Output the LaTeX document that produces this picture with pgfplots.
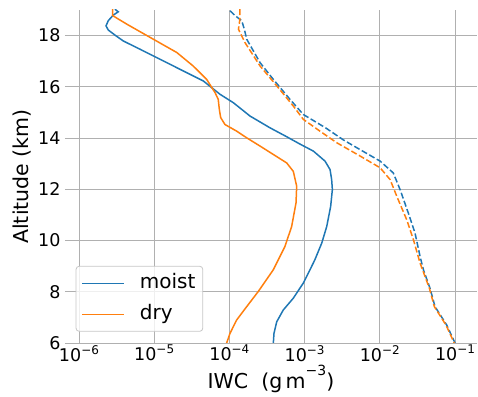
\documentclass[border=0pt]{standalone}
\usepackage{fontspec}
\setmainfont{DejaVu Sans}
\usepackage{pgfplots}
\pgfplotsset{compat=1.18}
\definecolor{mblue}{HTML}{1F77B4}
\definecolor{morange}{HTML}{FF7F0E}
\definecolor{gridc}{HTML}{B0B0B0}
\newcommand{\dex}[1]{10\raisebox{7bp}{\fontsize{12bp}{12bp}\selectfont −#1}}
\begin{document}
\begin{tikzpicture}
\begin{axis}[
  scale only axis,
  width=412bp, height=333bp,
  xmode=log,
  xmin=6.52e-7, xmax=0.196,
  ymin=6, ymax=19,
  axis line style={draw=none},
  major tick length=0pt, minor tick length=0pt,
  xminorticks=false,
  xtick={1e-6,1e-5,1e-4,1e-3,1e-2,1e-1},
  xticklabels={\dex{6},\dex{5},\dex{4},\dex{3},\dex{2},\dex{1}},
  ytick={6,8,10,12,14,16,18},
  grid=major,
  major grid style={gridc, line width=0.8bp},
  /pgf/number format/assume math mode=true,
  tick label style={font=\fontsize{17.5bp}{20bp}\selectfont},
  xticklabel style={anchor=north, inner sep=0pt, yshift=-2bp},
  yticklabel style={anchor=east, inner sep=0pt, xshift=-4.3bp},
  xlabel={IWC\ \ (g\,m\raisebox{0.6em}{\fontsize{14bp}{14bp}\selectfont −3})},
  ylabel={Altitude (km)},
  every axis x label/.style={at={(rel axis cs:0.5,0)}, anchor=base, yshift=-45bp, font=\fontsize{20.5bp}{24bp}\selectfont},
  every axis y label/.style={at={([xshift=-43bp]rel axis cs:0,0.5)}, rotate=90, anchor=center, font=\fontsize{20.5bp}{24bp}\selectfont},
  legend style={at={(rel axis cs:0,0)}, anchor=south west, xshift=10.7bp, yshift=11.3bp,
    draw=black!22, line width=0.8bp, rounded corners=3bp, fill=white, fill opacity=0.8, draw opacity=1, text opacity=1,
    font=\fontsize{20bp}{24bp}\selectfont, inner xsep=5.3bp, inner ysep=5.5bp,
    row sep=8bp, column sep=13bp, nodes={inner sep=2bp, text height=15bp, text depth=4bp}},
  legend cell align=left,
  legend image code/.code={\draw[#1, line width=1.5bp] (0bp,0bp) -- (42bp,0bp);},
  every axis plot/.append style={line width=1.5bp},
]
\coordinate (sw) at (rel axis cs:0,0);
\coordinate (ne) at (rel axis cs:1,1);
% moist solid
\addplot[mblue] coordinates {
(3.01e-6,19.03) (3.33e-6,18.93) (2.86e-6,18.80) (2.45e-6,18.58) (2.29e-6,18.38)
(2.45e-6,18.22) (3.01e-6,18.02) (3.89e-6,17.79) (6.47e-6,17.47) (1.19e-5,17.08)
(2.44e-5,16.62) (4.50e-5,16.23) (7.50e-5,15.71) (1.13e-4,15.38) (1.88e-4,14.86)
(3.47e-4,14.40) (5.8e-4,14.05) (8.5e-4,13.78) (1.31e-3,13.49) (1.87e-3,13.10)
(2.18e-3,12.77) (2.29e-3,12.38) (2.34e-3,11.99) (2.22e-3,11.33) (1.97e-3,10.55)
(1.69e-3,9.90) (1.37e-3,9.25) (1.18e-3,8.86) (9.62e-4,8.34) (7.08e-4,7.75)
(5.21e-4,7.29) (4.26e-4,6.83) (3.92e-4,6.38) (3.84e-4,6.0)
};
\addlegendentry{moist}
% dry solid
\addplot[morange] coordinates {
(2.81e-6,19.03) (2.81e-6,18.78) (4.31e-6,18.45) (9.73e-6,17.86) (2.00e-5,17.34)
(3.31e-5,16.81) (4.99e-5,16.29) (6.46e-5,15.77) (7.11e-5,15.51) (7.35e-5,15.12)
(7.66e-5,14.80) (8.73e-5,14.53) (1.25e-4,14.27) (1.70e-4,14.01) (2.55e-4,13.69)
(5.78e-4,13.03) (7.08e-4,12.70) (7.85e-4,12.12) (7.69e-4,11.47) (6.73e-4,10.55)
(5.48e-4,9.77) (3.84e-4,8.86) (2.42e-4,8.01) (1.70e-4,7.42) (1.25e-4,6.90)
(1.02e-4,6.38) (9.2e-5,6.0)
};
\addlegendentry{dry}
% moist dashed
\addplot[mblue, dash pattern=on 6bp off 2.6bp, forget plot] coordinates {
(1.02e-4,18.97) (1.19e-4,18.78) (1.46e-4,18.58) (1.58e-4,18.25) (1.70e-4,17.86)
(2.55e-4,16.95) (3.84e-4,16.29) (6.40e-4,15.51) (9.62e-4,14.92) (1.90e-3,14.40)
(3.27e-3,13.93) (5.46e-3,13.55) (1.01e-2,13.10) (1.51e-2,12.64) (1.86e-2,11.99)
(2.39e-2,11.08) (2.94e-2,10.29) (3.43e-2,9.38) (3.80e-2,8.86) (4.66e-2,8.13)
(5.42e-2,7.42) (7.76e-2,6.70) (0.1,6.0)
};
% dry dashed
\addplot[morange, dash pattern=on 6bp off 2.6bp, forget plot] coordinates {
(1.38e-4,19.03) (1.38e-4,18.64) (1.32e-4,18.25) (1.61e-4,17.73) (2.55e-4,16.82)
(4.26e-4,16.04) (7.08e-4,15.25) (9.62e-4,14.73) (1.60e-3,14.27) (2.67e-3,13.82)
(5.46e-3,13.30) (1.01e-2,12.84) (1.37e-2,12.38) (1.68e-2,11.73) (2.28e-2,10.81)
(2.80e-2,10.03) (3.43e-2,9.12) (4.57e-2,8.13) (5.31e-2,7.42) (7.59e-2,6.70)
(9.77e-2,6.0)
};
\end{axis}
\pgfresetboundingbox
\path ([shift={(-65bp,-54bp)}]sw) rectangle ([shift={(1bp,10bp)}]ne);
\end{tikzpicture}
\end{document}
